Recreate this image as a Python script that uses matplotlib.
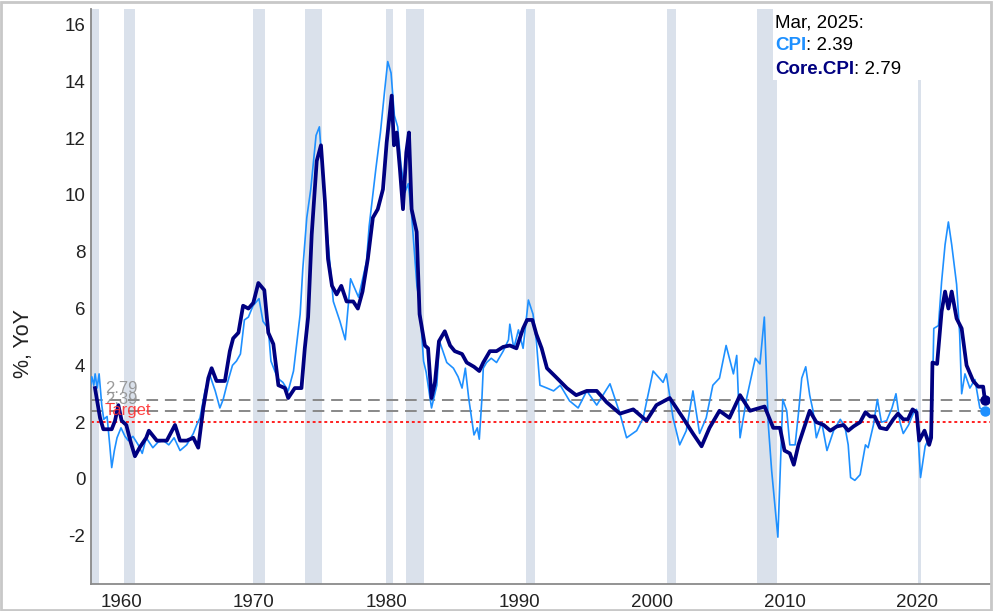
import matplotlib
matplotlib.use("Agg")
import matplotlib.pyplot as plt
from matplotlib.patches import Rectangle

plt.rcParams['font.family'] = ['Liberation Sans', 'DejaVu Sans']

# ---------------- data ----------------
cpi_dates = [1957.66, 1957.8, 1957.95, 1958.05, 1958.2, 1958.35, 1958.55, 1958.7, 1958.95, 1959.15,
             1959.3, 1959.5, 1959.7, 1960.0, 1960.3, 1960.55, 1960.9, 1961.3, 1961.6, 1961.9,
             1962.4, 1962.8, 1963.2, 1963.6, 1964.0, 1964.45, 1964.95, 1965.45, 1965.7, 1965.95,
             1966.33, 1966.7, 1967.1, 1967.45, 1967.7, 1967.97, 1968.4, 1968.7, 1969.0, 1969.3,
             1969.6, 1969.95, 1970.4, 1970.7, 1971.1, 1971.3, 1971.8, 1972.2, 1972.6, 1973.0,
             1973.5, 1973.7, 1974.0, 1974.3, 1974.7, 1974.95, 1975.2, 1975.55, 1976.0, 1976.5,
             1976.9, 1977.3, 1977.9, 1978.5, 1978.7, 1979.2, 1979.55, 1979.85, 1980.1, 1980.35,
             1980.6, 1980.85, 1981.1, 1981.4, 1981.65, 1981.9, 1982.3, 1982.5, 1982.8, 1983.0,
             1983.4, 1983.8, 1984.0, 1984.55, 1985.05, 1985.4, 1985.7, 1985.95, 1986.2, 1986.45,
             1986.6, 1986.85, 1987.0, 1987.2, 1987.3, 1987.55, 1987.9, 1988.3, 1988.8, 1989.2,
             1989.3, 1989.6, 1989.95, 1990.3, 1990.7, 1991.05, 1991.3, 1991.57, 1992.1, 1992.6,
             1993.1, 1993.8, 1994.45, 1995.1, 1995.85, 1996.85, 1997.6, 1998.1, 1998.86, 1999.35,
             2000.1, 2000.85, 2001.1, 2001.6, 2002.1, 2002.6, 2003.1, 2003.6, 2004.1, 2004.6,
             2005.1, 2005.6, 2006.15, 2006.4, 2006.65, 2007.15, 2007.8, 2008.15, 2008.48, 2008.78,
             2009.03, 2009.5, 2009.87, 2010.17, 2010.4, 2010.8, 2011.05, 2011.3, 2011.6, 2011.9,
             2012.15, 2012.4, 2012.8, 2013.2, 2013.7, 2014.2, 2014.55, 2014.8, 2014.98, 2015.3,
             2015.7, 2016.1, 2016.3, 2016.7, 2017.0, 2017.3, 2017.7, 2018.1, 2018.4, 2018.7,
             2018.95, 2019.35, 2019.7, 2019.95, 2020.25, 2020.6, 2020.9, 2021.1, 2021.25, 2021.6,
             2021.84, 2022.1, 2022.35, 2022.6, 2022.97, 2023.2, 2023.35, 2023.6, 2023.97, 2024.35,
             2024.72, 2025.1]
cpi_values = [3.1, 3.6, 3.3, 3.7, 3.2, 3.7, 2.6, 2.1, 2.2, 1.2,
              0.4, 1.0, 1.45, 1.8, 1.5, 1.35, 1.5, 1.2, 0.9, 1.45,
              1.1, 1.3, 1.35, 1.2, 1.45, 1.0, 1.2, 1.6, 1.9, 2.15,
              3.1, 3.65, 3.1, 2.5, 2.8, 3.3, 4.0, 4.15, 4.4, 5.6,
              5.7, 6.1, 6.35, 5.55, 5.3, 4.15, 3.55, 3.4, 3.1, 3.8,
              5.8, 7.4, 9.2, 10.2, 12.1, 12.4, 10.7, 8.6, 6.25, 5.55,
              4.9, 7.05, 6.4, 7.65, 8.9, 10.9, 12.2, 13.6, 14.7, 14.3,
              12.8, 12.4, 11.05, 10.1, 10.4, 9.3, 6.8, 6.2, 4.15, 3.75,
              2.5, 3.3, 4.85, 4.1, 3.9, 3.6, 3.2, 3.9, 2.85, 2.05,
              1.55, 1.8, 1.4, 2.85, 3.9, 4.1, 4.25, 4.1, 4.5, 4.9,
              5.45, 4.6, 5.25, 4.6, 6.3, 5.8, 4.85, 3.3, 3.2, 3.1,
              3.3, 2.75, 2.5, 3.1, 2.6, 3.35, 2.3, 1.45, 1.7, 2.15,
              3.8, 3.4, 3.7, 2.15, 1.2, 1.7, 3.1, 1.6, 2.15, 3.3,
              3.55, 4.7, 3.7, 4.35, 1.45, 2.85, 4.25, 4.05, 5.7, 1.9,
              0.3, -2.05, 2.8, 2.4, 1.2, 1.2, 2.3, 3.55, 3.95, 2.95,
              2.4, 1.45, 2.0, 1.0, 1.7, 2.1, 1.85, 1.2, 0.05, -0.05,
              0.15, 1.2, 1.1, 1.9, 2.8, 2.0, 2.05, 2.5, 3.0, 2.0,
              1.6, 1.9, 2.3, 2.45, 0.05, 1.15, 1.45, 1.8, 5.3, 5.4,
              6.95, 8.25, 9.05, 8.25, 6.85, 5.1, 3.0, 3.7, 3.2, 3.5,
              2.5, 2.39]

core_dates = [1958.04, 1958.42, 1958.67, 1959.3, 1959.55, 1959.8, 1960.05, 1960.4, 1960.7, 1961.05,
              1961.4, 1961.9, 1962.1, 1962.7, 1963.45, 1964.07, 1964.45, 1964.95, 1965.45, 1965.82,
              1966.2, 1966.58, 1966.83, 1967.2, 1967.83, 1968.2, 1968.45, 1968.85, 1969.2, 1969.6,
              1969.97, 1970.35, 1970.8, 1971.1, 1971.48, 1971.86, 1972.35, 1972.6, 1973.1, 1973.6,
              1973.85, 1974.1, 1974.37, 1974.75, 1975.07, 1975.37, 1975.6, 1975.9, 1976.25, 1976.6,
              1977.0, 1977.5, 1977.85, 1978.2, 1978.6, 1978.98, 1979.35, 1979.74, 1980.02, 1980.4,
              1980.57, 1980.78, 1981.02, 1981.25, 1981.5, 1981.7, 1981.9, 1982.28, 1982.5, 1982.9,
              1983.14, 1983.4, 1983.66, 1983.96, 1984.4, 1984.8, 1985.15, 1985.7, 1986.05, 1986.6,
              1987.0, 1987.3, 1987.8, 1988.3, 1988.8, 1989.3, 1989.8, 1990.3, 1990.6, 1991.0,
              1991.3, 1991.7, 1992.1, 1992.75, 1993.6, 1994.3, 1995.1, 1995.85, 1996.6, 1997.6,
              1998.6, 1999.6, 2000.35, 2001.35, 2002.35, 2003.1, 2003.75, 2004.35, 2005.1, 2005.85,
              2006.65, 2007.4, 2008.5, 2009.15, 2009.66, 2010.0, 2010.4, 2010.7, 2011.05, 2011.55,
              2011.9, 2012.4, 2012.95, 2013.45, 2013.95, 2014.45, 2014.8, 2015.2, 2015.7, 2016.1,
              2016.45, 2016.8, 2017.2, 2017.7, 2018.2, 2018.55, 2018.95, 2019.3, 2019.65, 2019.95,
              2020.15, 2020.55, 2020.9, 2021.05, 2021.15, 2021.5, 2021.84, 2022.1, 2022.35, 2022.6,
              2022.97, 2023.35, 2023.72, 2024.22, 2024.6, 2024.97, 2025.1]
core_values = [3.2, 2.15, 1.75, 1.75, 2.05, 2.6, 2.05, 1.9, 1.35, 0.8,
               1.1, 1.45, 1.7, 1.35, 1.35, 1.9, 1.35, 1.35, 1.45, 1.1,
               2.5, 3.55, 3.9, 3.45, 3.45, 4.5, 4.95, 5.15, 6.1, 6.0,
               6.2, 6.9, 6.65, 5.15, 4.75, 3.3, 3.2, 2.85, 3.2, 3.2,
               4.6, 5.7, 8.6, 11.2, 11.75, 9.75, 7.75, 6.8, 6.5, 6.8,
               6.25, 6.25, 6.0, 6.6, 7.75, 9.2, 9.5, 10.2, 11.85, 13.5,
               11.75, 12.2, 10.9, 9.5, 11.5, 12.2, 9.5, 8.7, 5.8, 4.7,
               4.6, 2.85, 3.4, 4.85, 5.2, 4.7, 4.5, 4.4, 4.1, 3.95,
               3.8, 4.1, 4.5, 4.5, 4.65, 4.7, 4.6, 5.3, 5.6, 5.6,
               5.1, 4.6, 3.9, 3.6, 3.2, 2.95, 3.1, 3.1, 2.7, 2.3,
               2.45, 2.05, 2.6, 2.85, 2.15, 1.6, 1.15, 1.8, 2.4, 2.15,
               2.95, 2.4, 2.55, 1.8, 1.8, 1.0, 0.9, 0.5, 1.2, 1.9,
               2.4, 2.0, 1.9, 1.7, 1.85, 1.9, 1.7, 1.85, 2.0, 2.35,
               2.2, 2.2, 1.8, 1.75, 2.1, 2.3, 2.1, 2.1, 2.45, 2.35,
               1.35, 1.7, 1.2, 1.45, 4.1, 4.05, 5.9, 6.6, 6.0, 6.6,
               5.65, 5.3, 4.0, 3.45, 3.25, 3.25, 2.79]

recession_starts = [1957.58, 1960.25, 1969.92, 1973.83, 1980.0, 1981.5, 1990.5, 2001.17, 2007.92, 2020.08]
recession_ends = [1958.33, 1961.08, 1970.83, 1975.17, 1980.5, 1982.83, 1991.17, 2001.83, 2009.42, 2020.25]

x_ticks = [1960, 1970, 1980, 1990, 2000, 2010, 2020]
y_ticks = [-2, 0, 2, 4, 6, 8, 10, 12, 14, 16]

latest_label = "Mar, 2025:"
latest_cpi = 2.39
latest_core = 2.79
target = 2.0

# ---------------- figure ----------------
W, H = 993, 611
fig = plt.figure(figsize=(W / 100, H / 100), dpi=100)
L, R, T, B = 91, 990, 9, 584
ax = fig.add_axes([L / W, (H - B) / H, (R - L) / W, (B - T) / H])

CPI_C = "#1e90ff"
CORE_C = "#000080"
REC_C = "#dae1eb"

for s, e in zip(recession_starts, recession_ends):
    ax.axvspan(s, e, color=REC_C, lw=0, zorder=0)

ax.axhline(target, color="#ff2020", lw=1.4, ls=(0, (1.5, 1.5)), zorder=2)
ax.axhline(latest_core, color="#888888", lw=1.4, ls=(0, (6, 3.5)), zorder=2)
ax.axhline(latest_cpi, color="#888888", lw=1.4, ls=(0, (6, 3.5)), zorder=2)

ax.plot(cpi_dates, cpi_values, color=CPI_C, lw=1.2, zorder=3)
ax.plot(core_dates, core_values, color=CORE_C, lw=2.7, zorder=4)
ax.plot(cpi_dates[-1], cpi_values[-1], "o", color=CPI_C, ms=6.5, zorder=5)
ax.plot(core_dates[-1], core_values[-1], "o", color=CORE_C, ms=6.5, zorder=5)

xmin = 1960 + (L - 121) / 13.27
xmax = 1960 + (R - 121) / 13.27
ax.set_xlim(xmin, xmax)
ax.set_ylim(-3.70, 16.55)

# small labels above reference lines (they overlap in the reference too)
lab_x = 0.0156
trans = ax.get_yaxis_transform()
ax.annotate(f"{latest_core:.2f}", xy=(lab_x, latest_core), xycoords=trans, xytext=(0, 3),
            textcoords="offset points", va="bottom", ha="left", fontsize=12, color="#909090", alpha=0.9, zorder=6)
ax.annotate(f"{latest_cpi:.2f}", xy=(lab_x, latest_cpi), xycoords=trans, xytext=(0, 3),
            textcoords="offset points", va="bottom", ha="left", fontsize=12, color="#909090", alpha=0.9, zorder=6)
ax.annotate("Target", xy=(lab_x, target), xycoords=trans, xytext=(0, 3),
            textcoords="offset points", va="bottom", ha="left", fontsize=12, color="#ff3030", alpha=0.9, zorder=6)

ax.set_xticks(x_ticks)
ax.set_yticks(y_ticks)
ax.set_xticklabels([str(v) for v in x_ticks])
ax.set_yticklabels([str(v) for v in y_ticks])
ax.tick_params(axis="both", length=0, labelsize=13.5, colors="#222222")
ax.tick_params(axis="y", pad=4)
ax.tick_params(axis="x", pad=7)

for sp in ["top", "right"]:
    ax.spines[sp].set_visible(False)
for sp in ["left", "bottom"]:
    ax.spines[sp].set_color("#8a8a8a")
    ax.spines[sp].set_linewidth(1.3)

ax.set_ylabel("%, YoY", fontsize=15.5, color="#222222")
ax.yaxis.set_label_coords((34 - L) / (R - L), (B - 344) / (B - T))

# legend box top right (white background)
bx0 = (773 - L) / (R - L)
bx1 = (925 - L) / (R - L)
by0 = (B - 80) / (B - T)
ax.add_patch(Rectangle((bx0, by0), bx1 - bx0, 1 - by0, transform=ax.transAxes,
                       facecolor="white", edgecolor="none", zorder=6))

tx = (775 - L) / (R - L)
fs = 13.5
t1 = ax.text(tx, (B - 27) / (B - T), latest_label, transform=ax.transAxes, fontsize=fs,
             color="black", va="baseline", ha="left", zorder=7)
t2 = ax.text(tx, (B - 50.5) / (B - T), "CPI", transform=ax.transAxes, fontsize=fs,
             color=CPI_C, fontweight="bold", va="baseline", ha="left", zorder=7)
ax.annotate(f": {latest_cpi:.2f}", xy=(1, 0), xycoords=t2, va="bottom", ha="left",
            fontsize=fs, color="black", zorder=7)
t3 = ax.text(tx, (B - 74) / (B - T), "Core.CPI", transform=ax.transAxes, fontsize=fs,
             color=CORE_C, fontweight="bold", va="baseline", ha="left", zorder=7)
ax.annotate(f": {latest_core:.2f}", xy=(1, 0), xycoords=t3, va="bottom", ha="left",
            fontsize=fs, color="black", zorder=7)

# figure frame
fig.patches.append(Rectangle((0.001, 0.002), 0.997, 0.995, transform=fig.transFigure,
                             fill=False, edgecolor="#c8c8c8", linewidth=2.0))

fig.savefig("out.png", dpi=100)
